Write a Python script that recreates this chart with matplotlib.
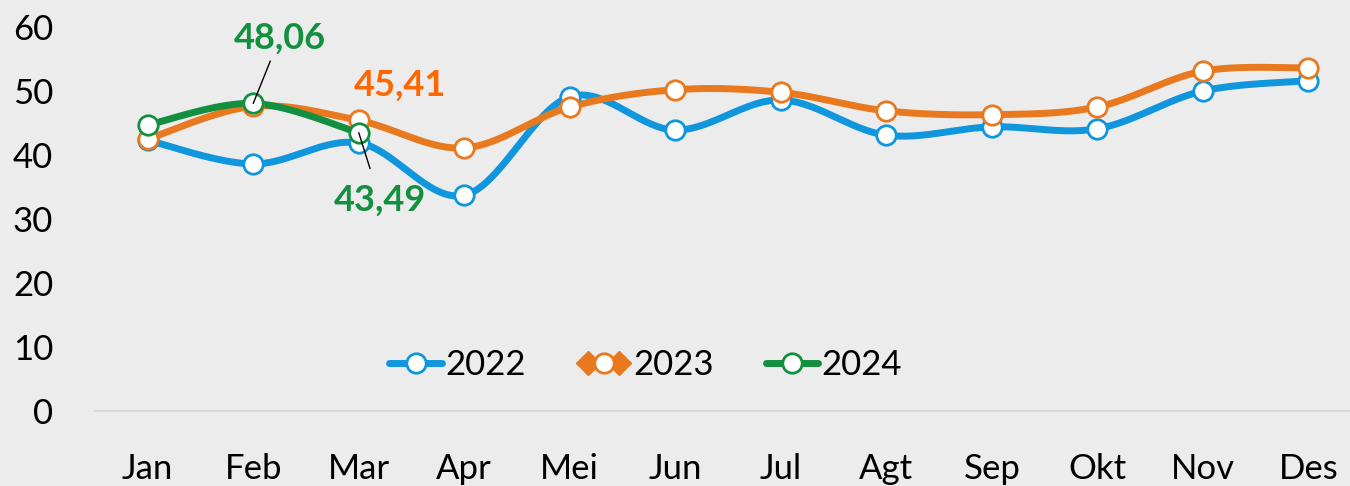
import numpy as np
import matplotlib.pyplot as plt
from matplotlib.lines import Line2D
from matplotlib.legend_handler import HandlerLine2D

months = ['Jan', 'Feb', 'Mar', 'Apr', 'Mei', 'Jun', 'Jul', 'Agt', 'Sep', 'Okt', 'Nov', 'Des']
y2022 = [42.3, 38.6, 41.9, 33.7, 49.1, 43.9, 48.6, 43.1, 44.4, 44.1, 50.0, 51.6]
y2023 = [42.5, 47.6, 45.41, 41.1, 47.5, 50.2, 49.8, 46.9, 46.3, 47.5, 53.1, 53.6]
y2024 = [44.7, 48.06, 43.49]

c22 = '#0f96dc'
c23 = '#e8791e'
c24 = '#12903f'

plt.rcParams['font.family'] = ['Lato', 'DejaVu Sans']


def smooth(x, y, n=40):
    # Bezier smoothing similar to Excel's smoothed line
    x = np.asarray(x, float)
    y = np.asarray(y, float)
    px = np.concatenate([[x[0]], x, [x[-1]]])
    py = np.concatenate([[y[0]], y, [y[-1]]])
    xs, ys = [], []
    t = np.linspace(0, 1, n)
    for i in range(len(x) - 1):
        p0 = np.array([px[i + 1], py[i + 1]])
        p3 = np.array([px[i + 2], py[i + 2]])
        c1 = p0 + (np.array([px[i + 2], py[i + 2]]) - np.array([px[i], py[i]])) / 6
        c2 = p3 - (np.array([px[i + 3], py[i + 3]]) - np.array([px[i + 1], py[i + 1]])) / 6
        b = ((1 - t) ** 3)[:, None] * p0 + (3 * (1 - t) ** 2 * t)[:, None] * c1 \
            + (3 * (1 - t) * t ** 2)[:, None] * c2 + (t ** 3)[:, None] * p3
        xs.extend(b[:, 0])
        ys.extend(b[:, 1])
    return np.array(xs), np.array(ys)


fig = plt.figure(figsize=(13.5, 4.86), dpi=100)
fig.patch.set_facecolor('#ececec')
ax = fig.add_axes([95 / 1350, 75 / 486, 1266 / 1350, 384 / 486])
ax.set_facecolor('#ececec')

lw = 5
ms = 14
for data, col in [(y2022, c22), (y2023, c23), (y2024, c24)]:
    xi = np.arange(len(data))
    sx, sy = smooth(xi, data)
    ax.plot(sx, sy, color=col, lw=lw, solid_capstyle='round', zorder=2)
    ax.plot(xi, data, 'o', ms=ms, mfc='white', mec=col, mew=2, zorder=3)

ax.set_xlim(-0.5, 11.5)
ax.set_ylim(0, 60)
ax.set_yticks(range(0, 61, 10))
ax.set_xticks(range(12))
ax.set_xticklabels(months)
ax.tick_params(axis='both', length=0, labelsize=25)
ax.tick_params(axis='x', pad=30)
ax.tick_params(axis='y', pad=30)
for s in ['top', 'right', 'left']:
    ax.spines[s].set_visible(False)
ax.spines['bottom'].set_color('#d9d9d9')
ax.spines['bottom'].set_linewidth(1.5)

# data labels
ax.annotate('48,06', xy=(1, y2024[1]), xytext=(1.25, 58.3), ha='center', va='center',
            color=c24, fontsize=26, fontweight='bold', zorder=5,
            arrowprops=dict(arrowstyle='-', color='black', lw=1, shrinkA=3, shrinkB=0))
ax.text(2.39, 50.9, '45,41', ha='center', va='center', color='#ff6600',
        fontsize=26, fontweight='bold')
ax.annotate('43,49', xy=(2, y2024[2]), xytext=(2.2, 33), ha='center', va='center',
            color=c24, fontsize=26, fontweight='bold', zorder=5,
            arrowprops=dict(arrowstyle='-', color='black', lw=1, shrinkA=9, shrinkB=0))

# legend
h22 = Line2D([], [], color=c22, lw=lw, marker='o', ms=ms, mfc='white', mec=c22, mew=2,
             solid_capstyle='round')
h23d = Line2D([], [], color=c23, lw=lw, marker='D', ms=12, mfc=c23, mec=c23)
h23 = Line2D([], [], color=c23, lw=0, marker='o', ms=ms, mfc='white', mec=c23, mew=2)
h24 = Line2D([], [], color=c24, lw=lw, marker='o', ms=ms, mfc='white', mec=c24, mew=2,
             solid_capstyle='round')
leg = ax.legend([h22, (h23d, h23), h24], ['2022', '2023', '2024'], loc='center',
                bbox_to_anchor=(0.435, 0.12), ncol=3, frameon=False, fontsize=25,
                handlelength=1.5, handletextpad=0.1, columnspacing=1.5,
                handler_map={h23d: HandlerLine2D(numpoints=2),
                             h22: HandlerLine2D(numpoints=1),
                             h23: HandlerLine2D(numpoints=1),
                             h24: HandlerLine2D(numpoints=1)})

fig.savefig('out.png', dpi=100, facecolor=fig.get_facecolor())
